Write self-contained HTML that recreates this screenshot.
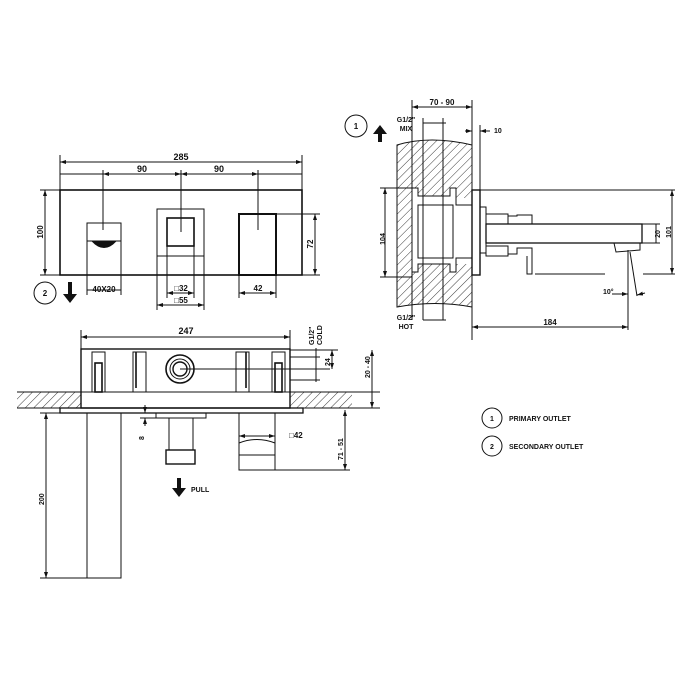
<!DOCTYPE html>
<html><head><meta charset="utf-8"><style>html,body{margin:0;padding:0;background:#fff}svg{display:block}text{font-family:"Liberation Sans",sans-serif;font-weight:bold;fill:#111}</style></head>
<body>
<svg width="700" height="700" viewBox="0 0 700 700" xmlns="http://www.w3.org/2000/svg">
<defs>
<pattern id="h" width="6" height="6" patternUnits="userSpaceOnUse" patternTransform="rotate(45)"><line x1="0" y1="0" x2="0" y2="6" stroke="#222" stroke-width="0.9"/></pattern>
<marker id="a" viewBox="0 0 6 6" refX="6" refY="3" markerWidth="6" markerHeight="6" orient="auto-start-reverse"><path d="M0,1 L6,3 L0,5z" fill="#111"/></marker>
</defs>
<rect width="700" height="700" fill="#fff"/>
<g fill="none" stroke="#111" stroke-width="1">
<!-- FRONT VIEW -->
<rect x="60" y="190" width="242" height="85" stroke-width="1.6"/>
<line x1="60" y1="155" x2="60" y2="190"/><line x1="302" y1="155" x2="302" y2="190"/>
<line x1="60" y1="162" x2="302" y2="162" marker-start="url(#a)" marker-end="url(#a)"/>
<line x1="60" y1="174" x2="302" y2="174"/>
<line x1="103" y1="170" x2="103" y2="230"/><line x1="181" y1="170" x2="181" y2="232"/><line x1="258" y1="170" x2="258" y2="230"/>
<line x1="103" y1="174" x2="181" y2="174" marker-start="url(#a)" marker-end="url(#a)"/>
<line x1="181" y1="174" x2="258" y2="174" marker-start="url(#a)" marker-end="url(#a)"/>
<rect x="87" y="223" width="34" height="18"/>
<path d="M92,241 Q104,254 116,241" fill="#111"/>
<rect x="157" y="209" width="47" height="47"/>
<rect x="167" y="218" width="27" height="28" stroke-width="1.6"/>
<rect x="239" y="214" width="37" height="61" stroke-width="2"/>
<line x1="40" y1="190" x2="60" y2="190"/><line x1="40" y1="275" x2="60" y2="275"/>
<line x1="45" y1="190" x2="45" y2="275" marker-start="url(#a)" marker-end="url(#a)"/>
<line x1="276" y1="214" x2="320" y2="214"/><line x1="302" y1="275" x2="320" y2="275"/>
<line x1="315" y1="214" x2="315" y2="275" marker-start="url(#a)" marker-end="url(#a)"/>
<line x1="87" y1="241" x2="87" y2="295"/><line x1="121" y1="241" x2="121" y2="295"/>
<line x1="87" y1="290" x2="121" y2="290"/>
<line x1="167" y1="246" x2="167" y2="298"/><line x1="194" y1="246" x2="194" y2="298"/>
<line x1="167" y1="293" x2="194" y2="293" marker-start="url(#a)" marker-end="url(#a)"/>
<line x1="157" y1="256" x2="157" y2="310"/><line x1="204" y1="256" x2="204" y2="310"/>
<line x1="157" y1="305" x2="204" y2="305" marker-start="url(#a)" marker-end="url(#a)"/>
<line x1="239" y1="275" x2="239" y2="298"/><line x1="276" y1="275" x2="276" y2="298"/>
<line x1="239" y1="293" x2="276" y2="293" marker-start="url(#a)" marker-end="url(#a)"/>
<circle cx="45" cy="293" r="11"/>
<!-- TOP VIEW -->
<rect x="17" y="392" width="64" height="16" fill="url(#h)" stroke="none"/>
<rect x="290" y="392" width="62" height="16" fill="url(#h)" stroke="none"/>
<line x1="17" y1="392" x2="81" y2="392"/><line x1="17" y1="408" x2="352" y2="408"/><line x1="290" y1="392" x2="352" y2="392"/>
<rect x="81" y="349" width="209" height="59" stroke-width="1.4"/>
<line x1="81" y1="392" x2="290" y2="392"/>
<line x1="81" y1="330" x2="81" y2="349"/><line x1="290" y1="330" x2="290" y2="349"/>
<line x1="81" y1="337" x2="290" y2="337" marker-start="url(#a)" marker-end="url(#a)"/>
<rect x="92" y="352" width="13" height="40"/><rect x="95" y="363" width="7" height="29" stroke-width="1.6"/>
<rect x="133" y="352" width="13" height="40"/><line x1="136" y1="352" x2="136" y2="388" stroke-width="1.6"/>
<rect x="236" y="352" width="13" height="40"/><line x1="246" y1="352" x2="246" y2="388" stroke-width="1.6"/>
<rect x="272" y="352" width="13" height="40"/><rect x="275" y="363" width="7" height="29" stroke-width="1.6"/>
<circle cx="180" cy="369" r="14" stroke-width="1.6"/><circle cx="180" cy="369" r="10"/><circle cx="180" cy="369" r="7" stroke-width="1.4"/>
<line x1="180" y1="369" x2="330" y2="369"/>
<line x1="290" y1="357" x2="320" y2="357"/><line x1="290" y1="380" x2="320" y2="380"/>
<line x1="316" y1="348" x2="316" y2="382"/>
<line x1="290" y1="350" x2="338" y2="350"/>
<line x1="332" y1="350" x2="332" y2="369" marker-start="url(#a)" marker-end="url(#a)"/>
<line x1="352" y1="392" x2="380" y2="392"/><line x1="352" y1="408" x2="380" y2="408"/>
<line x1="372" y1="350" x2="372" y2="408" marker-start="url(#a)" marker-end="url(#a)"/>
<rect x="60" y="408" width="243" height="5" stroke-width="1.3"/>
<rect x="87" y="413" width="34" height="165"/>
<line x1="40" y1="413" x2="87" y2="413"/><line x1="40" y1="578" x2="121" y2="578"/>
<line x1="46" y1="413" x2="46" y2="578" marker-start="url(#a)" marker-end="url(#a)"/>
<rect x="156" y="413" width="50" height="5"/>
<rect x="169" y="418" width="24" height="32"/>
<rect x="166" y="450" width="29" height="14" stroke-width="1.4"/>
<line x1="145" y1="405" x2="145" y2="413" marker-end="url(#a)"/><line x1="145" y1="426" x2="145" y2="418" marker-end="url(#a)"/>
<line x1="140" y1="418" x2="156" y2="418"/>
<rect x="239" y="413" width="36" height="57"/>
<path d="M239,443 Q257,436 275,443 L275,455 L239,455z"/>
<line x1="239" y1="436" x2="275" y2="436" marker-start="url(#a)" marker-end="url(#a)"/>
<line x1="303" y1="408" x2="352" y2="408"/><line x1="275" y1="470" x2="350" y2="470"/>
<line x1="345" y1="410" x2="345" y2="470" marker-start="url(#a)" marker-end="url(#a)"/>
<!-- SIDE VIEW -->
<path d="M397,145 Q430,135 472,145 L472,307 Q435,300 397,307z" fill="url(#h)"/>
<rect x="412" y="198" width="60" height="66" fill="#fff" stroke="none"/>
<path d="M412,188 L418,188 L418,196 L450,196 L450,188 L456,188 L456,205 L472,205 L472,258 L456,258 L456,272 L450,272 L450,264 L418,264 L418,272 L412,272z" fill="#fff"/>
<rect x="418" y="205" width="35" height="53"/>
<line x1="412" y1="100" x2="412" y2="320"/><line x1="423" y1="118" x2="423" y2="320"/><line x1="443" y1="118" x2="443" y2="320"/>
<line x1="472" y1="100" x2="472" y2="340"/><line x1="480" y1="125" x2="480" y2="190"/>
<line x1="412" y1="107" x2="472" y2="107" marker-start="url(#a)" marker-end="url(#a)"/>
<line x1="423" y1="123" x2="446" y2="123"/><line x1="423" y1="320" x2="446" y2="320"/>
<line x1="465" y1="131" x2="472" y2="131" marker-end="url(#a)"/><line x1="490" y1="131" x2="480" y2="131" marker-end="url(#a)"/>
<rect x="472" y="190" width="8" height="85" stroke-width="1.4"/>
<rect x="480" y="207" width="6" height="46"/>
<rect x="486" y="214" width="22" height="10"/><rect x="486" y="246" width="22" height="10"/>
<path d="M508,216 L517,216 L517,215 L532,215 L532,224"/><path d="M508,254 L517,254 L517,248 L532,248 L532,274 L527,274 L527,256"/>
<line x1="480" y1="190" x2="675" y2="190"/>
<rect x="486" y="224" width="156" height="19" stroke-width="1.3"/>
<path d="M614,243 L640,243 L640,250 L616,252z"/>
<line x1="535" y1="274" x2="605" y2="274"/><line x1="643" y1="274" x2="675" y2="274"/>
<line x1="672" y1="190" x2="672" y2="274" marker-start="url(#a)" marker-end="url(#a)"/>
<line x1="642" y1="224" x2="660" y2="224"/><line x1="642" y1="243" x2="660" y2="243"/>
<line x1="656" y1="224" x2="656" y2="243"/>
<line x1="628" y1="250" x2="628" y2="330"/><line x1="630" y1="252" x2="637" y2="296"/>
<line x1="612" y1="294" x2="628" y2="294" marker-end="url(#a)"/><line x1="645" y1="293" x2="637" y2="295" marker-end="url(#a)"/>
<line x1="472" y1="327" x2="628" y2="327" marker-start="url(#a)" marker-end="url(#a)"/>
<line x1="380" y1="188" x2="412" y2="188"/><line x1="380" y1="277" x2="412" y2="277"/>
<line x1="385" y1="188" x2="385" y2="277" marker-start="url(#a)" marker-end="url(#a)"/>
<circle cx="356" cy="126" r="11"/>
<circle cx="492" cy="418" r="10"/><circle cx="492" cy="446" r="10"/>
</g>
<path d="M68,282 L72,282 L72,294 L77,294 L70,303 L63,294 L68,294z" fill="#111"/>
<path d="M177,478 L181,478 L181,488 L186,488 L179,497 L172,488 L177,488z" fill="#111"/>
<path d="M378,142 L382,142 L382,134 L387,134 L380,125 L373,134 L378,134z" fill="#111"/>
<text x="181" y="160" font-size="9" text-anchor="middle">285</text>
<text x="142" y="172" font-size="9" text-anchor="middle">90</text>
<text x="219" y="172" font-size="9" text-anchor="middle">90</text>
<text font-size="8" transform="translate(43,232) rotate(-90)" text-anchor="middle">100</text>
<text font-size="8" transform="translate(313,244) rotate(-90)" text-anchor="middle">72</text>
<text x="104" y="292" font-size="8" text-anchor="middle">40X20</text>
<text x="181" y="291" font-size="8" text-anchor="middle">□32</text>
<text x="181" y="303" font-size="8" text-anchor="middle">□55</text>
<text x="258" y="291" font-size="8" text-anchor="middle">42</text>
<text x="45" y="296" font-size="8" text-anchor="middle">2</text>
<text x="186" y="334" font-size="9" text-anchor="middle">247</text>
<text font-size="7" transform="translate(314,345) rotate(-90)">G1/2"</text>
<text font-size="7" transform="translate(322,345) rotate(-90)">COLD</text>
<text font-size="7" transform="translate(330,366) rotate(-90)">24</text>
<text font-size="7" transform="translate(370,378) rotate(-90)">20 - 40</text>
<text font-size="7" transform="translate(144,440) rotate(-90)">8</text>
<text x="289" y="438" font-size="8">□42</text>
<text font-size="7" transform="translate(343,460) rotate(-90)">71 - 51</text>
<text font-size="7" transform="translate(44,505) rotate(-90)">200</text>
<text x="191" y="492" font-size="7">PULL</text>
<text x="442" y="105" font-size="8" text-anchor="middle">70 - 90</text>
<text x="494" y="133" font-size="7">10</text>
<text x="406" y="122" font-size="7" text-anchor="middle">G1/2"</text>
<text x="406" y="131" font-size="7" text-anchor="middle">MIX</text>
<text x="406" y="320" font-size="7" text-anchor="middle">G1/2"</text>
<text x="406" y="329" font-size="7" text-anchor="middle">HOT</text>
<text font-size="7" transform="translate(385,239) rotate(-90)" text-anchor="middle">104</text>
<text font-size="7" transform="translate(660,234) rotate(-90)" text-anchor="middle">20</text>
<text font-size="7" transform="translate(671,232) rotate(-90)" text-anchor="middle">101</text>
<text x="603" y="294" font-size="7">10°</text>
<text x="550" y="325" font-size="8" text-anchor="middle">184</text>
<text x="356" y="129" font-size="8" text-anchor="middle">1</text>
<text x="492" y="421" font-size="7" text-anchor="middle">1</text>
<text x="492" y="449" font-size="7" text-anchor="middle">2</text>
<text x="509" y="421" font-size="7">PRIMARY  OUTLET</text>
<text x="509" y="449" font-size="7">SECONDARY  OUTLET</text>
</svg>
</body></html>
